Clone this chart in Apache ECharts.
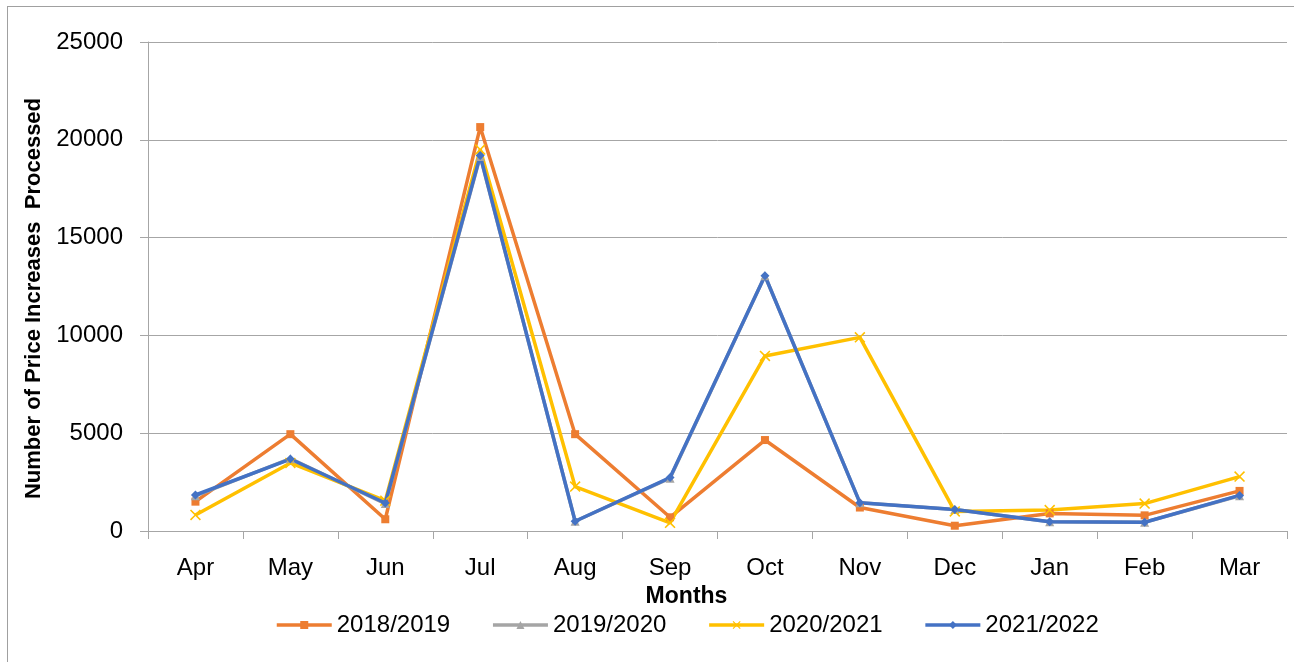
<!DOCTYPE html>
<html>
<head>
<meta charset="utf-8">
<script src="https://cdn.jsdelivr.net/npm/echarts@6/dist/echarts.min.js"></script>
<style>
  body { margin: 0; background: #fff; }
  #chart { width: 1294px; height: 662px; }
  #frame { position: absolute; left: 7px; top: 6px; width: 1300px; height: 700px;
           border: 1px solid #a0a0a0; pointer-events: none; }
</style>
</head>
<body>
<div id="chart"></div>
<div id="frame"></div>
<script>
// Months of the financial year
const months = ['Apr', 'May', 'Jun', 'Jul', 'Aug', 'Sep', 'Oct', 'Nov', 'Dec', 'Jan', 'Feb', 'Mar'];

// Price increases processed per month
const fy1819 = [1500, 4950, 600, 20650, 4950, 700, 4650, 1200, 270, 900, 800, 2050];
const fy1920 = [1800, 3700, 1400, 19150, 500, 2700, 13050, 1450, 1100, 470, 450, 1800];
const fy2021 = [820, 3480, 1550, 19500, 2270, 420, 8950, 9900, 1000, 1070, 1400, 2780];
const fy2122 = [1840, 3680, 1430, 19200, 500, 2730, 13050, 1450, 1100, 470, 450, 1820];

const yTicks = [0, 5000, 10000, 15000, 20000, 25000];

const crossPath = 'path://M0,1L1,0L5,4L9,0L10,1L6,5L10,9L9,10L5,6L1,10L0,9L4,5Z';

const font = 'Liberation Sans, Arial, sans-serif';

function lineSeries(name, data, color, symbol, size) {
    return {
        name: name,
        type: 'line',
        data: data,
        symbol: symbol,
        symbolSize: size,
        showAllSymbol: true,
        lineStyle: { color: color, width: 3.5 },
        itemStyle: { color: color },
        emphasis: { disabled: true }
    };
}

let option = {
    animation: false,
    textStyle: { fontFamily: font },
    grid: { left: 148, right: 7, top: 42, bottom: 131, containLabel: false },
    legend: {
        bottom: 20,
        left: 270,
        itemWidth: 55,
        itemHeight: 10,
        itemGap: 41,
        lineStyle: { width: 3.5 },
        textStyle: { fontSize: 24, color: '#000', fontFamily: font },
        data: ['2018/2019', '2019/2020', '2020/2021', '2021/2022']
    },
    xAxis: {
        type: 'category',
        data: months,
        boundaryGap: true,
        name: 'Months',
        nameLocation: 'middle',
        nameGap: 45,
        nameTextStyle: { fontSize: 23, fontWeight: 'bold', color: '#000', padding: [0, 62, 0, 0] },
        axisLine: { lineStyle: { color: '#a6a6a6', width: 1 } },
        axisTick: { show: true, alignWithLabel: false, length: 8, lineStyle: { color: '#a6a6a6' } },
        axisLabel: { fontSize: 24, color: '#000', margin: 25 }
    },
    yAxis: {
        type: 'value',
        min: yTicks[0],
        max: yTicks[yTicks.length - 1],
        interval: 5000,
        name: 'Number of Price Increases  Processed',
        nameLocation: 'middle',
        nameGap: 100,
        nameRotate: 90,
        nameTextStyle: { fontSize: 22, fontWeight: 'bold', color: '#000', padding: [0, 24, 0, 0] },
        axisLine: { show: true, lineStyle: { color: '#a6a6a6', width: 1 } },
        axisTick: { show: true, length: 8, lineStyle: { color: '#a6a6a6' } },
        axisLabel: { fontSize: 24, color: '#000', margin: 25, formatter: function (v) { return String(v); } },
        splitLine: { lineStyle: { color: '#a6a6a6', width: 1 } }
    },
    series: [
        lineSeries('2018/2019', fy1819, '#ED7D31', 'rect', 8),
        lineSeries('2019/2020', fy1920, '#A5A5A5', 'triangle', 9),
        lineSeries('2020/2021', fy2021, '#FFC000', crossPath, 11),
        lineSeries('2021/2022', fy2122, '#4472C4', 'diamond', 9)
    ]
};

let chart = echarts.init(document.getElementById('chart'));
chart.setOption(option);
</script>
</body>
</html>
